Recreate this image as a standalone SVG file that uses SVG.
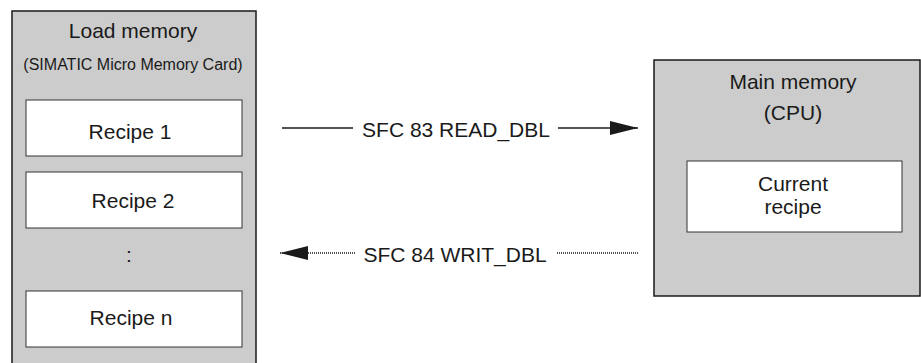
<svg xmlns="http://www.w3.org/2000/svg" width="921" height="363" viewBox="0 0 921 363">
<defs>
<style>
.outer{fill:#cccccc;stroke:#1a1a1a;stroke-width:1.5}
.inner{fill:#ffffff;stroke:#333333;stroke-width:1}
text{font-family:"Liberation Sans",Arial,sans-serif;fill:#1a1a1a;text-anchor:middle}
.big{font-size:21px}
.small{font-size:16px}
.line{stroke:#1a1a1a;stroke-width:1.4;fill:none}
.dot{stroke:#1a1a1a;stroke-width:1.4;fill:none;stroke-dasharray:1 1}
</style>
<marker id="ah" viewBox="0 0 28 14" refX="28" refY="7" markerWidth="28" markerHeight="14" markerUnits="userSpaceOnUse" orient="auto">
<path d="M0,0 L28,7 L0,14 Z" fill="#1a1a1a"/>
</marker>
</defs>
<g id="load-memory">
<rect class="outer" x="12" y="11" width="244" height="370"/>
<text class="big" x="133" y="38">Load memory</text>
<text class="small" x="133" y="70">(SIMATIC Micro Memory Card)</text>
</g>
<g id="recipe-1">
<rect class="inner" x="26" y="100" width="216" height="56"/>
<text class="big" x="130" y="139">Recipe 1</text>
</g>
<g id="recipe-2">
<rect class="inner" x="26" y="172" width="216" height="56"/>
<text class="big" x="133" y="208">Recipe 2</text>
</g>
<g id="ellipsis">
<text class="big" x="129" y="262">:</text>
</g>
<g id="recipe-n">
<rect class="inner" x="26" y="291" width="216" height="56"/>
<text class="big" x="131" y="325">Recipe n</text>
</g>
<g id="main-memory">
<rect class="outer" x="654" y="60" width="266" height="236"/>
<text class="big" x="793" y="89">Main memory</text>
<text class="big" x="793" y="120">(CPU)</text>
</g>
<g id="current-recipe">
<rect class="inner" x="687" y="161" width="215" height="71"/>
<text class="big" x="793" y="191">Current</text>
<text class="big" x="793" y="214">recipe</text>
</g>
<g id="connectors">
<line class="line" x1="282" y1="128" x2="353" y2="128"/>
<line class="line" x1="558" y1="128" x2="638" y2="128" marker-end="url(#ah)"/>
<text class="big" x="456" y="137">SFC 83 READ_DBL</text>
<line class="dot" x1="638" y1="253" x2="557" y2="253"/>
<line class="dot" x1="355" y1="253" x2="280" y2="253" marker-end="url(#ah)"/>
<text class="big" x="455" y="262">SFC 84 WRIT_DBL</text>
</g>
</svg>
